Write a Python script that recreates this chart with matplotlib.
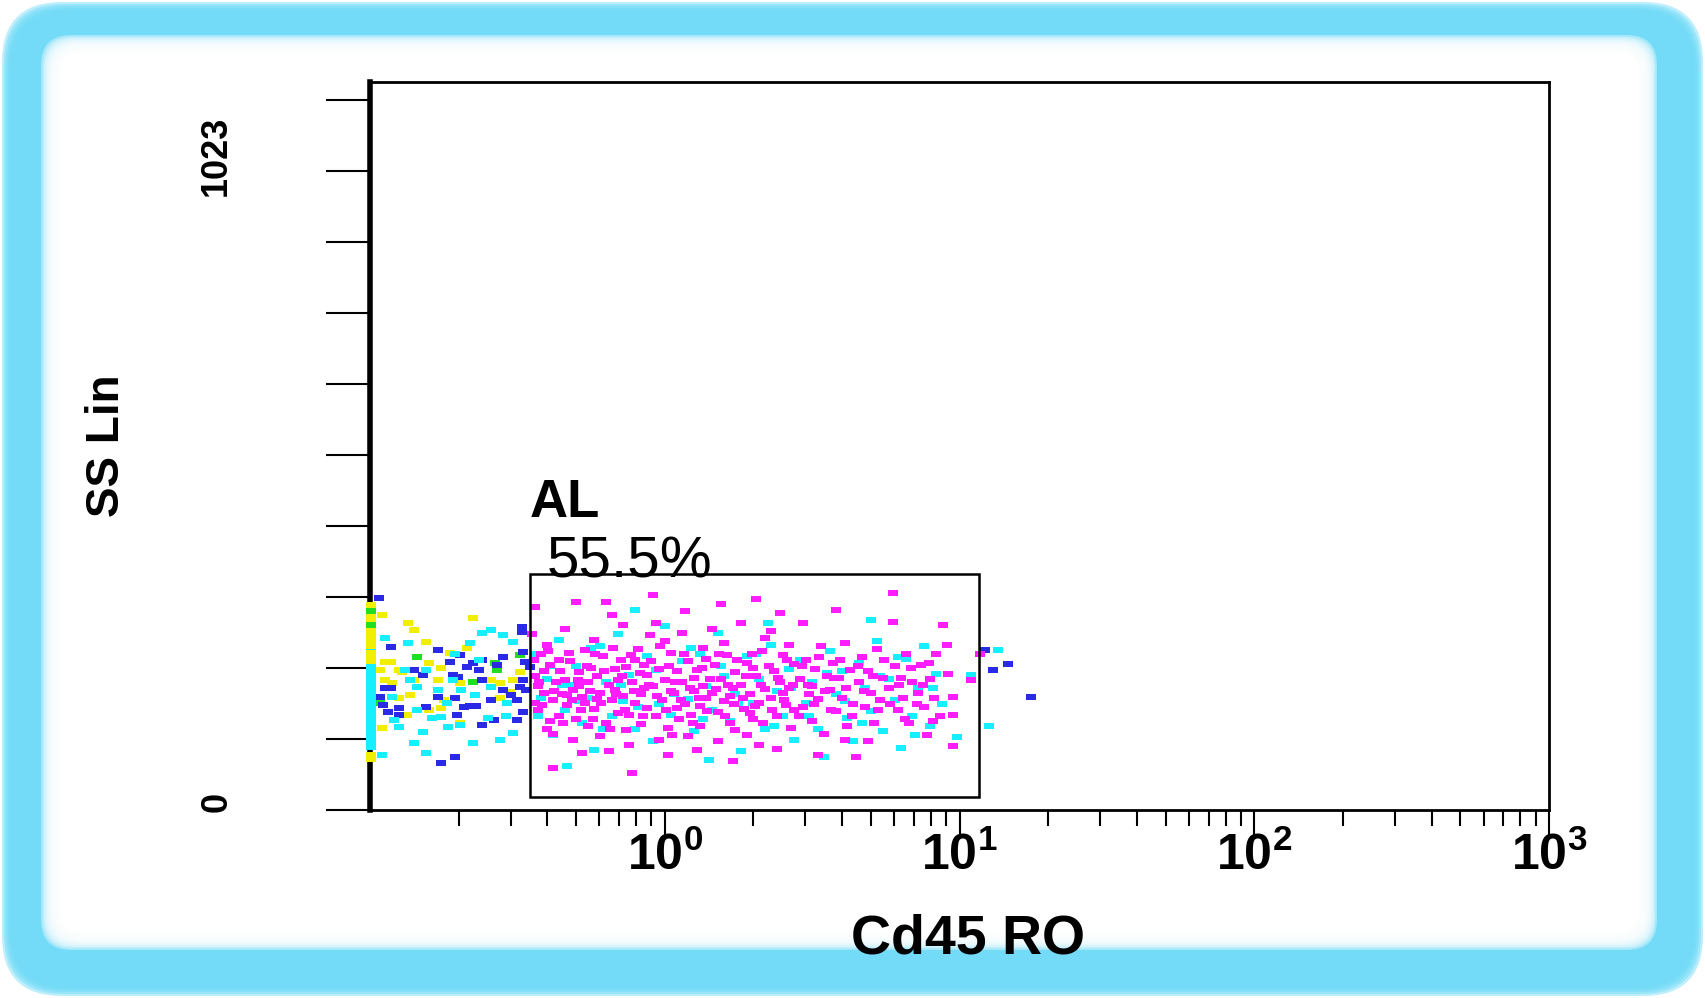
import numpy as np
import matplotlib.pyplot as plt
from matplotlib import font_manager
from matplotlib.patches import FancyBboxPatch, Rectangle

# events: (log10 Cd45 RO, SS Lin channel)
al_pts = [(-0.44, 215), (-0.43, 160), (-0.42, 250), (-0.41, 188), (-0.40, 130), (-0.39, 232), (-0.38, 176),
          (-0.37, 205), (-0.36, 150), (-0.45, 282), (-0.43, 198), (-0.40, 265), (-0.38, 121), (-0.36, 241),
          (-0.44, 172), (-0.41, 223), (-0.39, 143), (-0.35, 186), (-0.44, 325), (-0.38, 67),
          (-0.34, 208), (-0.33, 168), (-0.32, 238), (-0.31, 192), (-0.30, 145), (-0.29, 221), (-0.28, 181),
          (-0.27, 256), (-0.26, 135), (-0.34, 290), (-0.31, 112), (-0.29, 198), (-0.27, 172), (-0.25, 228),
          (-0.33, 184), (-0.30, 333), (-0.28, 92), (-0.26, 205),
          (-0.24, 162), (-0.23, 215), (-0.22, 188), (-0.21, 247), (-0.20, 139), (-0.19, 201), (-0.18, 176),
          (-0.17, 226), (-0.16, 155), (-0.24, 272), (-0.22, 118), (-0.20, 333), (-0.19, 95), (-0.17, 192),
          (-0.15, 240), (-0.23, 178), (-0.18, 312), (-0.16, 208),
          (-0.14, 183), (-0.13, 229), (-0.12, 152), (-0.11, 205), (-0.10, 171), (-0.09, 258), (-0.08, 138),
          (-0.07, 196), (-0.06, 217), (-0.14, 297), (-0.12, 104), (-0.10, 240), (-0.08, 186), (-0.06, 163),
          (-0.13, 128), (-0.05, 280), (-0.11, 60), (-0.07, 232),
          (-0.04, 198), (-0.03, 150), (-0.02, 226), (-0.01, 176), (0.00, 209), (0.01, 132), (0.02, 251),
          (0.03, 187), (0.04, 164), (-0.04, 344), (-0.02, 112), (0.00, 270), (0.02, 190), (0.04, 222),
          (-0.03, 300), (0.01, 88), (0.05, 145),
          (0.06, 205), (0.07, 170), (0.08, 238), (0.09, 152), (0.10, 191), (0.11, 224), (0.12, 135),
          (0.13, 260), (0.14, 180), (0.06, 283), (0.08, 118), (0.10, 212), (0.12, 166), (0.14, 242),
          (0.07, 318), (0.11, 96), (0.13, 199),
          (0.16, 188), (0.17, 232), (0.18, 157), (0.19, 210), (0.20, 174), (0.21, 248), (0.22, 140),
          (0.23, 196), (0.24, 221), (0.16, 290), (0.18, 110), (0.20, 268), (0.22, 183), (0.24, 128),
          (0.19, 330), (0.23, 78),
          (0.26, 200), (0.27, 162), (0.28, 236), (0.29, 185), (0.30, 145), (0.31, 215), (0.32, 172),
          (0.33, 254), (0.34, 194), (0.26, 300), (0.28, 120), (0.30, 228), (0.32, 104), (0.34, 275),
          (0.29, 155), (0.31, 338),
          (0.36, 180), (0.37, 222), (0.38, 150), (0.39, 205), (0.40, 248), (0.41, 168), (0.42, 196),
          (0.43, 132), (0.44, 234), (0.36, 286), (0.38, 98), (0.40, 187), (0.42, 264), (0.44, 160),
          (0.39, 316),
          (0.46, 210), (0.47, 165), (0.48, 240), (0.49, 186), (0.50, 143), (0.51, 226), (0.52, 178),
          (0.53, 262), (0.54, 121), (0.47, 300), (0.50, 198), (0.52, 88), (0.55, 215),
          (0.56, 192), (0.57, 236), (0.58, 158), (0.59, 212), (0.60, 180), (0.61, 268), (0.62, 134),
          (0.63, 224), (0.64, 170), (0.58, 320), (0.61, 112), (0.65, 85),
          (0.66, 205), (0.67, 245), (0.68, 165), (0.69, 222), (0.70, 188), (0.71, 140), (0.72, 258),
          (0.73, 176), (0.74, 212), (0.69, 110),
          (0.76, 196), (0.775, 347), (0.775, 301), (0.78, 230), (0.79, 160), (0.80, 212), (0.81, 180),
          (0.82, 250), (0.83, 140), (0.84, 205),
          (0.86, 188), (0.87, 232), (0.88, 165), (0.90, 210), (0.91, 143), (0.92, 250), (0.944, 297),
          (0.957, 264), (0.978, 181), (0.978, 152), (0.978, 102), (0.96, 218), (0.89, 120),
          (1.04, 208), (1.07, 250),
          # dense core
          (-0.445, 240), (-0.425, 205), (-0.415, 168), (-0.395, 255), (-0.375, 190), (-0.355, 222),
          (-0.345, 140), (-0.325, 252), (-0.315, 176), (-0.295, 208), (-0.285, 160), (-0.265, 230),
          (-0.255, 190), (-0.245, 145), (-0.235, 250), (-0.215, 172), (-0.205, 222), (-0.185, 130),
          (-0.175, 260), (-0.165, 186), (-0.145, 214), (-0.135, 160), (-0.115, 248), (-0.105, 190),
          (-0.085, 220), (-0.075, 150), (-0.055, 200), (-0.045, 238), (-0.025, 182), (-0.015, 262),
          (0.005, 160), (0.015, 230), (0.025, 120), (0.035, 205), (0.055, 176), (0.065, 250), (0.085, 196),
          (0.095, 140), (0.115, 180), (0.125, 228), (0.145, 158), (0.155, 210), (0.175, 194), (0.185, 250),
          (0.205, 150), (0.215, 200), (0.235, 170), (0.245, 240), (0.265, 180), (0.275, 214), (0.295, 250),
          (0.305, 166), (0.325, 200), (0.335, 140), (0.355, 230), (0.365, 160), (0.385, 212), (0.405, 176),
          (0.415, 240), (0.435, 200), (0.455, 150), (0.465, 230), (0.485, 200), (0.505, 170), (0.525, 245),
          (0.545, 190), (0.565, 160), (0.575, 212), (0.595, 240), (0.615, 196), (0.635, 150), (0.655, 230),
          (0.675, 190), (0.705, 215), (0.725, 160), (0.745, 240), (0.765, 170), (0.795, 200), (0.815, 145),
          (0.835, 228), (0.855, 170), (0.875, 200), (0.895, 235), (0.915, 180), (0.935, 150)]

cyan_pts = [(-0.95, 275), (-0.87, 267), (-0.81, 224), (-0.66, 267), (-0.62, 283), (-0.59, 288), (-0.55, 280),
            (-0.515, 269), (-0.92, 144), (-0.90, 133), (-0.85, 107), (-0.82, 125), (-0.79, 147), (-0.76, 149),
            (-0.735, 133), (-0.695, 136), (-0.65, 107), (-0.60, 147), (-0.56, 112), (-0.515, 123), (-0.81, 91),
            (-0.96, 88), (-0.84, 197), (-0.77, 192), (-0.69, 192), (-0.645, 184), (-0.59, 197), (-0.535, 171),
            (-0.72, 208), (-0.74, 171), (-0.925, 181), (-0.865, 208),
            (-0.44, 250), (-0.42, 180), (-0.40, 210), (-0.38, 120), (-0.36, 272), (-0.34, 160), (-0.32, 200),
            (-0.30, 230), (-0.28, 140), (-0.26, 180), (-0.24, 96), (-0.22, 262), (-0.20, 205), (-0.18, 150),
            (-0.16, 282), (-0.14, 175), (-0.12, 216), (-0.10, 130), (-0.08, 190), (-0.06, 246), (-0.04, 110),
            (-0.02, 170), (0.00, 295), (0.02, 152), (0.04, 205), (0.06, 238), (0.08, 178), (0.10, 126),
            (0.12, 250), (0.14, 198), (0.16, 160), (0.18, 284), (0.20, 215), (0.22, 142), (0.24, 186),
            (0.26, 95), (0.28, 246), (0.30, 172), (0.32, 210), (0.34, 130), (0.36, 265), (0.38, 190),
            (0.40, 150), (0.42, 226), (0.44, 112), (0.46, 240), (0.48, 172), (0.50, 205), (0.52, 130),
            (0.54, 85), (0.56, 254), (0.58, 185), (0.60, 222), (0.62, 148), (0.64, 110), (0.66, 236),
            (0.68, 195), (0.70, 158), (0.72, 270), (0.74, 126), (0.76, 210), (0.78, 176), (0.80, 100),
            (0.82, 242), (0.84, 150), (0.86, 196), (0.88, 262), (0.90, 135), (0.92, 218), (0.94, 170),
            (0.99, 117), (1.04, 216), (1.10, 134), (1.13, 256), (-0.33, 70), (0.15, 80), (0.35, 300),
            (-0.10, 320), (0.70, 305),
            (-0.43, 150), (-0.39, 230), (-0.35, 200), (-0.29, 175), (-0.25, 260), (-0.21, 130), (-0.15, 200),
            (-0.09, 165), (-0.03, 225), (0.03, 185), (0.09, 260), (0.13, 145), (0.19, 230), (0.25, 170),
            (0.31, 250), (0.37, 135), (0.43, 195), (0.49, 150), (0.55, 220), (0.61, 175), (0.67, 140),
            (0.73, 215), (0.79, 245), (0.85, 120), (0.91, 195), (-0.63, 240), (-0.71, 250), (-0.88, 225),
            (-0.54, 150), (-0.84, 160)]

blue_pts = [(-0.97, 339), (-0.93, 261), (-0.77, 256), (-0.95, 195), (-0.93, 195), (-0.966, 181), (-0.956, 168),
            (-0.90, 163), (-0.94, 157), (-0.85, 224), (-0.82, 216), (-0.73, 237), (-0.695, 248), (-0.70, 213),
            (-0.67, 229), (-0.65, 235), (-0.63, 224), (-0.62, 240), (-0.57, 232), (-0.485, 293), (-0.485, 285),
            (-0.48, 253), (-0.475, 237), (-0.48, 208), (-0.49, 197), (-0.47, 192), (-0.50, 176), (-0.48, 157),
            (-0.77, 181), (-0.81, 165), (-0.71, 179), (-0.68, 165), (-0.66, 166), (-0.64, 166), (-0.59, 176),
            (-0.55, 192), (-0.52, 184), (-0.90, 152), (-0.705, 152), (-0.62, 136), (-0.58, 144), (-0.50, 144),
            (-0.76, 75), (-0.71, 85), (-0.62, 208), (-0.55, 245), (-0.72, 216), (-0.457, 229),
            (1.087, 256), (1.165, 234), (1.114, 224), (1.243, 181)]

yellow_pts = [(-0.96, 312), (-0.87, 299), (-0.85, 288), (-0.81, 269), (-0.65, 307), (-0.67, 259), (-0.73, 251),
              (-0.95, 237), (-0.93, 237), (-0.90, 224), (-0.89, 221), (-0.85, 208), (-0.80, 235), (-0.76, 227),
              (-0.966, 224), (-0.95, 208), (-0.925, 203), (-0.77, 208), (-0.695, 203), (-0.59, 208), (-0.56, 203),
              (-0.515, 208), (-0.49, 221), (-0.90, 179), (-0.865, 184), (-0.75, 176), (-0.695, 139), (-0.80, 160),
              (-0.875, 152), (-0.76, 163), (-0.56, 179), (-0.525, 189), (-0.96, 131)]

green_pts = [(-0.575, 235), (-0.84, 245), (-0.65, 205), (-0.57, 224), (-0.49, 248), (-0.966, 171)]

# off-scale low events piled on the axis
edge_cyan_ss = [101, 106, 113, 120, 125, 131, 138, 142, 149, 155, 160, 166, 172, 178, 183, 189, 196, 201,
                206, 213, 218, 224, 230, 236, 241, 247, 252, 258, 264, 269, 275]
edge_yellow_ss = [82, 88, 238, 245, 251, 262, 270, 281, 288, 294, 300, 309, 315, 322, 328]
edge_green_ss = [296, 318]

gate_x = [0.348, 11.64]
gate_y = [21, 378]
ss_ticks = [0, 113.7, 227.3, 341, 454.7, 568.3, 682, 795.7, 909.3, 1023, 1136.7]

names = {f.name for f in font_manager.fontManager.ttflist}
narrow = 'Liberation Sans Narrow' if 'Liberation Sans Narrow' in names else 'Liberation Sans'
plt.rcParams['font.family'] = 'Liberation Sans'
plt.rcParams['mathtext.fontset'] = 'custom'
plt.rcParams['mathtext.rm'] = narrow + ':bold'
plt.rcParams['mathtext.it'] = narrow + ':bold'

W, H = 1705, 998
frame_blue = '#6ddaf7'
fig = plt.figure(figsize=(W / 100, H / 100), dpi=100)

# rounded blue frame
bg = fig.add_axes([0, 0, 1, 1], zorder=0)
bg.set_xlim(0, W)
bg.set_ylim(H, 0)
bg.axis('off')
for k in range(5):
    bg.add_patch(FancyBboxPatch((2 + 2 * k, 2 + 2 * k), W - 4 - 4 * k, H - 4 - 4 * k,
                                boxstyle='round,pad=0,rounding_size=60', fc=frame_blue, ec='none', alpha=0.45))
for k in range(10):
    l, t, r, b = 41 + 1.8 * k, 35 + 1.6 * k, 48 + 1.6 * k, 48 + 1.6 * k
    bg.add_patch(FancyBboxPatch((l, t), W - l - r, H - t - b,
                                boxstyle='round,pad=0,rounding_size=30', fc='white', ec='none', alpha=0.35))
bg.add_patch(FancyBboxPatch((60, 52), W - 126, H - 118,
                            boxstyle='round,pad=0,rounding_size=20', fc='white', ec='none'))

ax = fig.add_axes([370 / W, 1 - 810 / H, 1179 / W, 728 / H], zorder=1)
ax.set_xscale('log')
ax.set_xlim(0.1, 1000)
ax.set_ylim(0, 1166)

dash = [(-1, -0.55), (1, -0.55), (1, 0.55), (-1, 0.55), (-1, -0.55)]


def events(pts, color):
    e, ss = np.array(pts).T
    ax.scatter(10 ** e, ss, s=50, marker=dash, c=color, linewidths=0, zorder=2)


events(yellow_pts, '#f2ee00')
events(green_pts, '#22dd22')
events(blue_pts, '#2a2ae6')
events(cyan_pts, '#15efff')
events(al_pts, '#ff1cff')

for ss, col in [(edge_cyan_ss, '#15efff'), (edge_yellow_ss, '#f2ee00'), (edge_green_ss, '#22dd22')]:
    ax.scatter([0.101] * len(ss), ss, s=50, marker=dash, c=col, linewidths=0, zorder=3, clip_on=False)

ax.add_patch(Rectangle((gate_x[0], gate_y[0]), gate_x[1] - gate_x[0], gate_y[1] - gate_y[0],
                       fill=False, ec='black', lw=1.8, zorder=4))
ax.text(0.349, 469, 'AL', fontsize=38, fontweight='bold', ha='left', va='baseline')
ax.text(0.398, 373, '55.5%', fontsize=42, ha='left', va='baseline')

# axes
for side in ['top', 'right', 'bottom']:
    ax.spines[side].set_linewidth(2)
ax.spines['left'].set_linewidth(4)

ax.set_xticks([1, 10, 100, 1000])
ax.set_xticklabels([r'$10^{0}$', r'$10^{1}$', r'$10^{2}$', r'$10^{3}$'])
ax.set_xticks([m * 10.0 ** p for p in range(-1, 3) for m in range(2, 10)], minor=True)
ax.xaxis.set_minor_formatter(plt.NullFormatter())
ax.tick_params(axis='x', which='major', length=20, width=1.5, direction='out', pad=-4, labelsize=36)
ax.tick_params(axis='x', which='minor', length=11.5, width=1.5, direction='out')

ax.set_yticks(ss_ticks)
ax.set_yticklabels([])
ax.tick_params(axis='y', length=31.7, width=1.5, direction='out')
ax.text(-0.13, 1048, '1023', transform=ax.get_yaxis_transform(), rotation=90,
        ha='center', va='center', fontsize=26, fontweight='bold')
ax.text(-0.13, 13, '0', transform=ax.get_yaxis_transform(), rotation=90,
        ha='center', va='center', fontsize=26, fontweight='bold')

fig.text(107 / W, 1 - 446 / H, 'SS Lin', rotation=90, ha='center', va='center', fontsize=33, fontweight='bold')
fig.text(968 / W, 1 - 940 / H, 'Cd45 RO', ha='center', va='center', fontsize=40, fontweight='bold')

plt.savefig('out.png', dpi=100)
